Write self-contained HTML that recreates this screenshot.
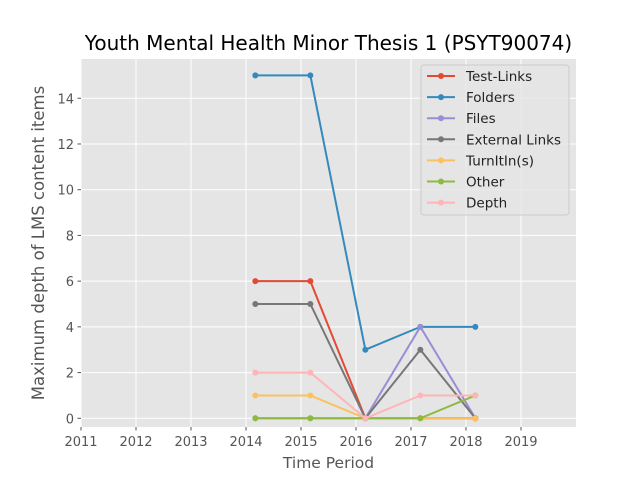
<!DOCTYPE html>
<html><head><meta charset="utf-8"><style>body{margin:0;background:#fff}svg{display:block;font-family:"DejaVu Sans","Liberation Sans",sans-serif}</style></head>
<body>
<svg id="chart" width="640" height="480" viewBox="0 0 640 480"></svg>
<script>
const xCategories = [2014.17, 2015.17, 2016.17, 2017.17, 2018.17];
const xTicks = [2011,2012,2013,2014,2015,2016,2017,2018,2019];
const yTicks = [0,2,4,6,8,10,12,14];
const seriesNames = ["Test-Links","Folders","Files","External Links","TurnItIn(s)","Other","Depth"];
const testLinks = [6,6,0,0,0];
const folders = [15,15,3,4,4];
const files = [0,0,0,4,0];
const externalLinks = [5,5,0,3,0];
const turnItIn = [1,1,0,0,0];
const other = [0,0,0,0,1];
const depth = [2,2,0,1,1];
const seriesValues = [testLinks,folders,files,externalLinks,turnItIn,other,depth];
const colors = ["#E24A33","#348ABD","#988ED5","#777777","#FBC15E","#8EBA42","#FFB5B8"];

const L=81,R=576,T=59,B=427;
const X=v=>L+(v-2011)*(R-L)/9;
const Y=v=>418.3-v*22.86;
const svg=document.getElementById('chart');
const NS="http://www.w3.org/2000/svg";
function mk(tag,attrs,parent){const e=document.createElementNS(NS,tag);for(const k in attrs)e.setAttribute(k,attrs[k]);(parent||svg).appendChild(e);return e;}

const bg=mk('rect',{x:L,y:T,width:R-L,height:B-T,fill:'#E5E5E5'});


xTicks.forEach(t=>{
  const g=mk('line',{x1:X(t),x2:X(t),y1:T,y2:B,stroke:'#fff','stroke-width':1});
  
  
  mk('line',{x1:X(t),x2:X(t),y1:B,y2:B+3.5,stroke:'#555'});
  const tx=mk('text',{x:X(t),y:B+19,'text-anchor':'middle','font-size':13,fill:'#555'});
  tx.textContent=t;
  
  
});
yTicks.forEach(t=>{
  const g=mk('line',{x1:L,x2:R,y1:Y(t),y2:Y(t),stroke:'#fff','stroke-width':1});
  
  
  mk('line',{x1:L-3.5,x2:L,y1:Y(t),y2:Y(t),stroke:'#555'});
  const tx=mk('text',{x:L-7,y:Y(t)+5,'text-anchor':'end','font-size':13,fill:'#555'});
  tx.textContent=t;
  
  
});
seriesValues.forEach((vals,i)=>{
  const g=mk('g',{});
  
  
  mk('polyline',{points:vals.map((v,j)=>X(xCategories[j])+','+Y(v)).join(' '),fill:'none',stroke:colors[i],'stroke-width':2});
  vals.forEach((v,j)=>{
    const c=mk('circle',{cx:X(xCategories[j]),cy:Y(v),r:3,fill:colors[i]},g);
    
    
  });
});
const title=mk('text',{x:(L+R)/2,y:50,'text-anchor':'middle','font-size':20,fill:'#000'});
title.textContent='Youth Mental Health Minor Thesis 1 (PSYT90074)';


const xt=mk('text',{x:(L+R)/2,y:468,'text-anchor':'middle','font-size':15.5,fill:'#555'});
xt.textContent='Time Period';


const yt=mk('text',{x:0,y:0,'text-anchor':'middle','font-size':16.5,fill:'#555',transform:`translate(44,${(T+B)/2}) rotate(-90)`});
yt.textContent='Maximum depth of LMS content items';


const lg=mk('g',{});


mk('rect',{x:421,y:65,width:148,height:150,rx:3,fill:'#E5E5E5',stroke:'#ccc','stroke-width':1,'fill-opacity':0.8},lg);
seriesNames.forEach((n,i)=>{
  const y=76+i*21.1;
  const e=mk('g',{},lg);
  
  
  mk('line',{x1:427,x2:455,y1:y,y2:y,stroke:colors[i],'stroke-width':2},e);
  mk('circle',{cx:441,cy:y,r:3,fill:colors[i]},e);
  const t=mk('text',{x:466,y:y+5,'font-size':13.5,fill:'#222'},e);
  t.textContent=n;
});
</script>
</body></html>
